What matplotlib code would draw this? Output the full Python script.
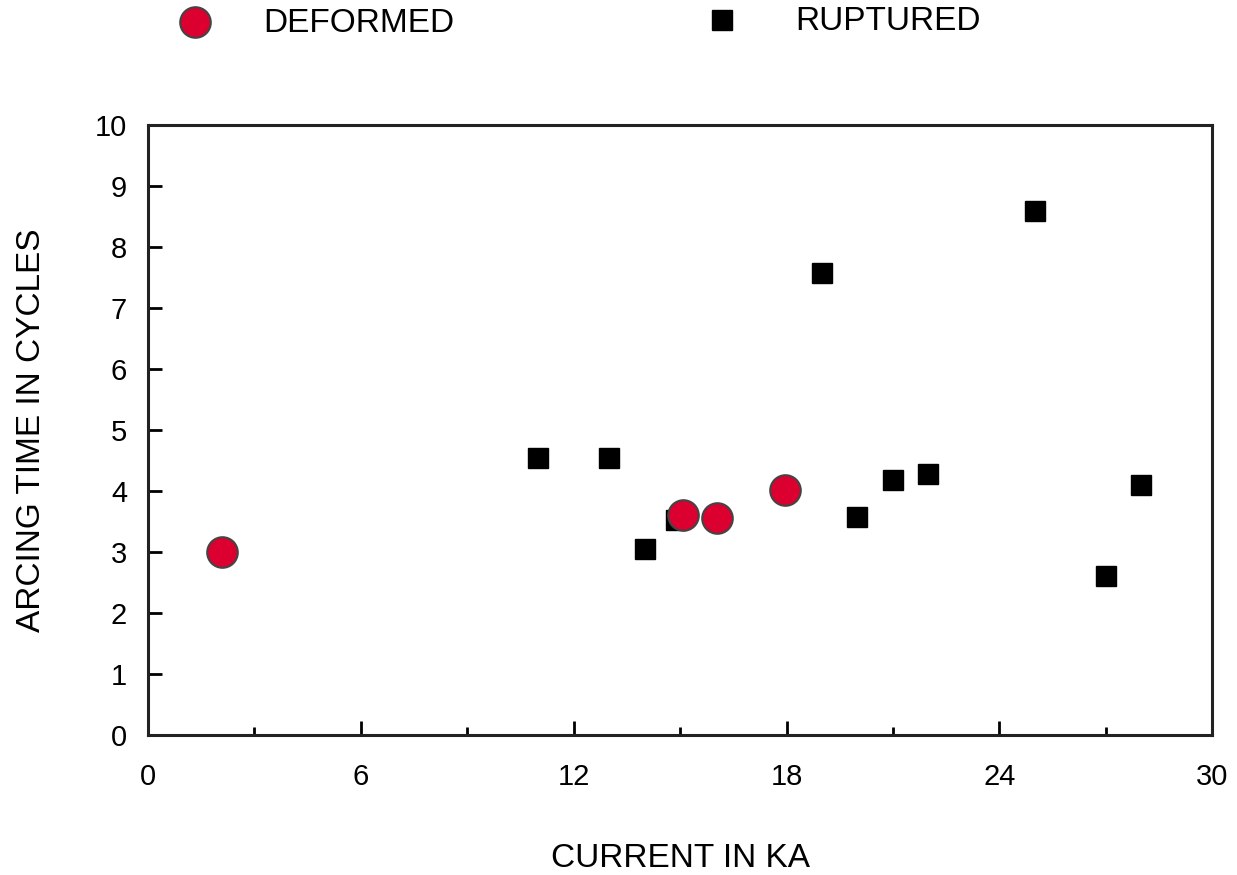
import matplotlib
matplotlib.use("Agg")
import matplotlib.pyplot as plt
from matplotlib.ticker import MultipleLocator

# deformed samples (red circles)
deformed_ka = [2.1, 15.08, 16.05, 17.95]
deformed_cycles = [3.0, 3.6, 3.55, 4.02]

# ruptured samples (black squares); one sits mostly behind the circle at 15 kA
ruptured_ka = [11.0, 13.0, 14.0, 14.88, 19.0, 20.0, 21.0, 22.0, 25.0, 27.0, 28.0]
ruptured_cycles = [4.55, 4.55, 3.05, 3.53, 7.57, 3.58, 4.18, 4.28, 8.6, 2.6, 4.1]

x_ticks = [0, 6, 12, 18, 24, 30]
y_ticks = list(range(0, 11))

RED = "#dc0030"
EDGE = "#444444"

plt.rcParams["font.family"] = ["Liberation Sans", "DejaVu Sans"]

fig = plt.figure(figsize=(12.37, 8.75), dpi=100)
ax = fig.add_axes([0.1196, 0.16, 0.8604, 0.697])

ax.plot(ruptured_ka, ruptured_cycles, linestyle="none", marker="s",
        markersize=15, color="black")
ax.plot(deformed_ka, deformed_cycles, linestyle="none", marker="o",
        markersize=22, markerfacecolor=RED, markeredgecolor=EDGE,
        markeredgewidth=1.5)

ax.set_xlim(0, 30)
ax.set_ylim(0, 10)
ax.set_xticks(x_ticks)
ax.set_yticks(y_ticks)
ax.xaxis.set_minor_locator(MultipleLocator(3))
ax.tick_params(axis="both", which="major", direction="in", length=10,
               width=2, labelsize=21)
ax.tick_params(axis="x", which="major", pad=20)
ax.tick_params(axis="y", which="major", pad=15)
ax.tick_params(axis="x", which="minor", direction="in", length=6, width=2)
for s in ax.spines.values():
    s.set_linewidth(2.2)
    s.set_color("#222222")

ax.set_xlabel("CURRENT IN KA", fontsize=24, va="center")
ax.xaxis.set_label_coords(0.5, -0.203)
ax.set_ylabel("ARCING TIME IN CYCLES", fontsize=24, va="center")
ax.yaxis.set_label_coords(-0.109, 0.5)

# legend drawn as header row above the plot
fig.lines.append(plt.Line2D([195 / 1237], [1 - 22 / 875], transform=fig.transFigure,
                            marker="o", markersize=22, markerfacecolor=RED,
                            markeredgecolor=EDGE, markeredgewidth=1.5,
                            linestyle="none"))
fig.text(263 / 1237, 1 - 24 / 875, "DEFORMED", fontsize=24, va="center", ha="left")
fig.lines.append(plt.Line2D([722 / 1237], [1 - 20 / 875], transform=fig.transFigure,
                            marker="s", markersize=14, color="black",
                            linestyle="none"))
fig.text(795 / 1237, 1 - 22 / 875, "RUPTURED", fontsize=24, va="center", ha="left")

fig.savefig("out.png", dpi=100)
